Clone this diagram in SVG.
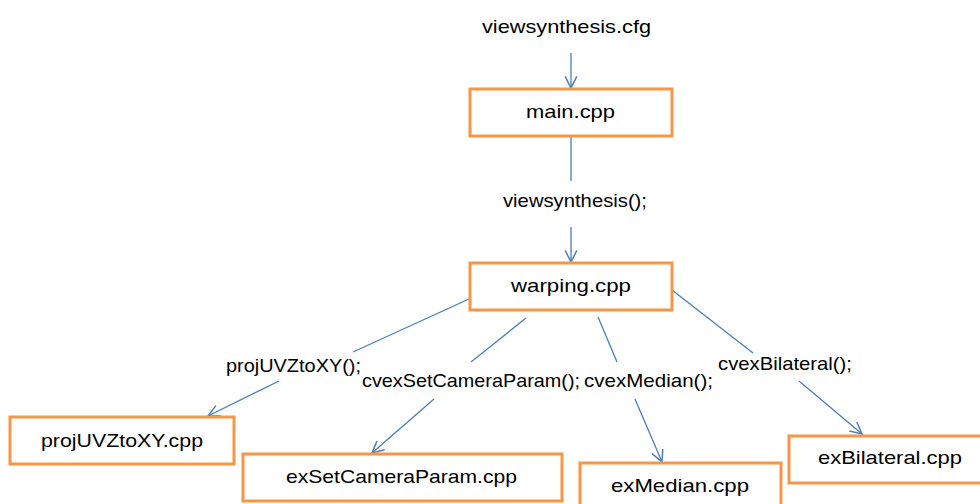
<svg xmlns="http://www.w3.org/2000/svg" width="980" height="504" viewBox="0 0 980 504">
<style>
.box{fill:#fff;stroke:#F79646;stroke-width:3}
.t{font-family:"Liberation Sans",Arial,sans-serif;font-size:19px;fill:#000;text-anchor:middle}
.c{stroke:#4A7EBB;stroke-width:1.3;fill:none}
</style>
<defs>
<marker id="arr" markerUnits="userSpaceOnUse" markerWidth="14" markerHeight="14" viewBox="0 0 12 12" refX="11" refY="6" orient="auto">
<path d="M1,1 L11,6 L1,11" fill="none" stroke="#4A7EBB" stroke-width="1.3"/>
</marker>
</defs>
<rect width="980" height="504" fill="#fff"/>
<g id="connectors">
<line class="c" x1="571" y1="53" x2="571" y2="88" marker-end="url(#arr)"/>
<line class="c" x1="571" y1="136" x2="571" y2="181"/>
<line class="c" x1="571" y1="227" x2="571" y2="262" marker-end="url(#arr)"/>
<line class="c" x1="469" y1="299" x2="353" y2="352"/>
<line class="c" x1="279" y1="381" x2="208" y2="416" marker-end="url(#arr)"/>
<line class="c" x1="526" y1="318" x2="471" y2="362"/>
<line class="c" x1="434" y1="399" x2="372" y2="453" marker-end="url(#arr)"/>
<line class="c" x1="598" y1="317" x2="617" y2="362"/>
<line class="c" x1="635" y1="399" x2="662" y2="462" marker-end="url(#arr)"/>
<line class="c" x1="672" y1="290" x2="753" y2="353"/>
<line class="c" x1="799" y1="381" x2="862" y2="434" marker-end="url(#arr)"/>
</g>
<g id="labels">
<text class="t" x="566.5" y="33" textLength="169" lengthAdjust="spacingAndGlyphs">viewsynthesis.cfg</text>
<text class="t" x="575" y="207" textLength="144" lengthAdjust="spacingAndGlyphs">viewsynthesis();</text>
<text class="t" x="293.5" y="372" textLength="135" lengthAdjust="spacingAndGlyphs">projUVZtoXY();</text>
<text class="t" x="471" y="387" textLength="218" lengthAdjust="spacingAndGlyphs">cvexSetCameraParam();</text>
<text class="t" x="648.5" y="387" textLength="129" lengthAdjust="spacingAndGlyphs">cvexMedian();</text>
<text class="t" x="785" y="370" textLength="134" lengthAdjust="spacingAndGlyphs">cvexBilateral();</text>
</g>
<g id="main">
<rect class="box" x="470" y="89" width="202" height="47"/>
<text class="t" x="570.5" y="118" textLength="89" lengthAdjust="spacingAndGlyphs">main.cpp</text>
</g>
<g id="warping">
<rect class="box" x="470" y="263" width="202" height="47"/>
<text class="t" x="571" y="292" textLength="120" lengthAdjust="spacingAndGlyphs">warping.cpp</text>
</g>
<g id="projUVZtoXY">
<rect class="box" x="10" y="417" width="224" height="47"/>
<text class="t" x="122" y="447" textLength="162" lengthAdjust="spacingAndGlyphs">projUVZtoXY.cpp</text>
</g>
<g id="exSetCameraParam">
<rect class="box" x="243" y="454" width="319" height="47"/>
<text class="t" x="401.5" y="483" textLength="231" lengthAdjust="spacingAndGlyphs">exSetCameraParam.cpp</text>
</g>
<g id="exMedian">
<rect class="box" x="580" y="463" width="201" height="47"/>
<text class="t" x="680" y="492" textLength="138" lengthAdjust="spacingAndGlyphs">exMedian.cpp</text>
</g>
<g id="exBilateral">
<rect class="box" x="789" y="436" width="200" height="47"/>
<text class="t" x="890" y="464" textLength="144" lengthAdjust="spacingAndGlyphs">exBilateral.cpp</text>
</g>
</svg>
